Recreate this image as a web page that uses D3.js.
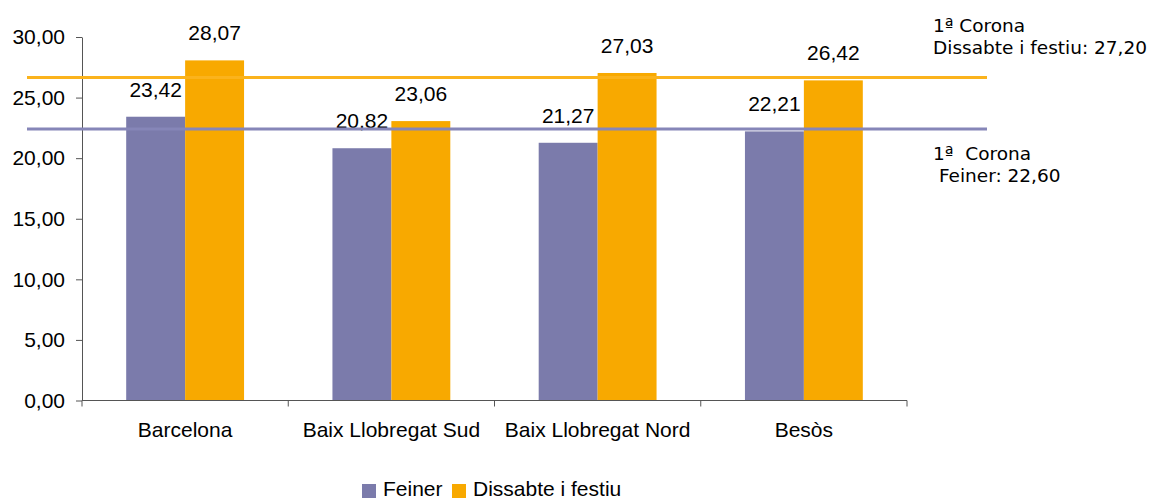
<!DOCTYPE html>
<html>
<head>
<meta charset="utf-8">
<script src="https://cdn.jsdelivr.net/npm/d3@7"></script>
<style>
  body { margin: 0; background: #fff; }
  svg { display: block; font-family: "Liberation Sans", Arial, sans-serif; }
</style>
</head>
<body>
<svg id="chart" width="1156" height="502"></svg>
<script>
// data
let categories = ["Barcelona", "Baix Llobregat Sud", "Baix Llobregat Nord", "Besòs"];
let series = ["Feiner", "Dissabte i festiu"];
let feiner = [23.42, 20.82, 21.27, 22.21];
let dissabte = [28.07, 23.06, 27.03, 26.42];
let yTicks = [0, 5, 10, 15, 20, 25, 30];
// reference lines (position as drawn, label as written)
let refLines = [
    { value: 26.65, lines: ["1ª Corona", "Dissabte i festiu: 27,20"], serie: "Dissabte i festiu" },
    { value: 22.41, lines: ["1ª  Corona", " Feiner: 22,60"], serie: "Feiner" }
];

let barColor = d3.scaleOrdinal().domain(series).range(["#7b7bab", "#f8a900"]);
let lineColor = d3.scaleOrdinal().domain(series).range(["#8686b8", "#fbb31c"]);

let fmt = function(v) { return d3.format(".2f")(v).replace(".", ","); };

let chart = d3.select("#chart");
chart.append("rect").attr("width", 1156).attr("height", 502).attr("fill", "#fff");

//scales
let x = d3.scaleBand()
            .domain(categories)
            .range([82, 907]);

let x1 = d3.scaleBand()
            .domain(series)
            .range([0, x.bandwidth()])
            .paddingOuter(0.75);

let y = d3.scaleLinear()
            .domain([0, 30])
            .range([400.5, 37]);

//y axis
let yAxis = chart.append("g")
    .attr("transform", "translate(82,0)")
    .call(d3.axisLeft(y).tickValues(yTicks).tickFormat(fmt).tickSize(6).tickSizeOuter(0).tickPadding(11));
yAxis.select(".domain").attr("stroke", "#555");
yAxis.selectAll(".tick line").attr("stroke", "#555");
yAxis.selectAll("text").attr("font-size", "21px").attr("fill", "#000")
    .attr("font-family", "Liberation Sans, Arial, sans-serif");

//bars
let rows = categories.map(function(c, i) {
    return { cat: c, values: [{ s: "Feiner", v: feiner[i] }, { s: "Dissabte i festiu", v: dissabte[i] }] };
});

let groups = chart.selectAll("g.cat")
    .data(rows)
    .enter()
    .append("g")
    .attr("class", "cat")
    .attr("transform", function(d) { return "translate(" + x(d.cat) + ",0)"; });

groups.selectAll("rect")
    .data(function(d) { return d.values; })
    .enter()
    .append("rect")
        .attr("x", function(d) { return x1(d.s); })
        .attr("y", function(d) { return y(d.v); })
        .attr("width", x1.bandwidth())
        .attr("height", function(d) { return y(0) - y(d.v); })
        .attr("fill", function(d) { return barColor(d.s); });

groups.selectAll("text")
    .data(function(d) { return d.values; })
    .enter()
    .append("text")
        .attr("x", function(d) { return x1(d.s) + x1.bandwidth() / 2; })
        .attr("y", function(d) { return y(d.v) - 20; })
        .attr("text-anchor", "middle")
        .attr("font-size", "21px")
        .attr("fill", "#000")
        .text(function(d) { return fmt(d.v); });

//x axis
let xa = chart.append("g");
xa.append("line")
    .attr("x1", 82).attr("x2", 907)
    .attr("y1", y(0)).attr("y2", y(0))
    .attr("stroke", "#555");
xa.selectAll("line.tk")
    .data(categories.map(function(c) { return x(c); }).concat([x.range()[1]]))
    .enter()
    .append("line")
        .attr("class", "tk")
        .attr("x1", function(d) { return d; }).attr("x2", function(d) { return d; })
        .attr("y1", y(0)).attr("y2", y(0) + 6)
        .attr("stroke", "#555");
xa.selectAll("text")
    .data(categories)
    .enter()
    .append("text")
        .attr("x", function(d) { return x(d) + x.bandwidth() / 2; })
        .attr("y", 437)
        .attr("text-anchor", "middle")
        .attr("font-size", "21px")
        .attr("fill", "#000")
        .text(function(d) { return d; });

//reference lines, drawn over the bars
refLines.forEach(function(r) {
    chart.append("line")
        .attr("x1", 27).attr("x2", 987)
        .attr("y1", y(r.value)).attr("y2", y(r.value))
        .attr("stroke", lineColor(r.serie))
        .attr("stroke-width", 3);
});

//annotations
let notes = [
    { lines: refLines[0].lines, y0: 32 },
    { lines: refLines[1].lines, y0: 160 }
];
notes.forEach(function(n) {
    n.lines.forEach(function(t, i) {
        chart.append("text")
            .attr("x", 933)
            .attr("y", n.y0 + i * 21.5)
            .attr("font-family", "DejaVu Sans, Verdana, sans-serif")
            .attr("font-size", "18.5px")
            .attr("fill", "#000")
            .style("white-space", "pre")
            .text(t);
    });
});

//legend
let legX = [362, 452];
series.forEach(function(s, i) {
    chart.append("rect")
        .attr("x", legX[i]).attr("y", 484)
        .attr("width", 14).attr("height", 14)
        .attr("fill", barColor(s));
    chart.append("text")
        .attr("x", legX[i] + 21).attr("y", 496)
        .attr("font-size", "21px")
        .attr("fill", "#000")
        .text(s);
});
</script>
</body>
</html>
